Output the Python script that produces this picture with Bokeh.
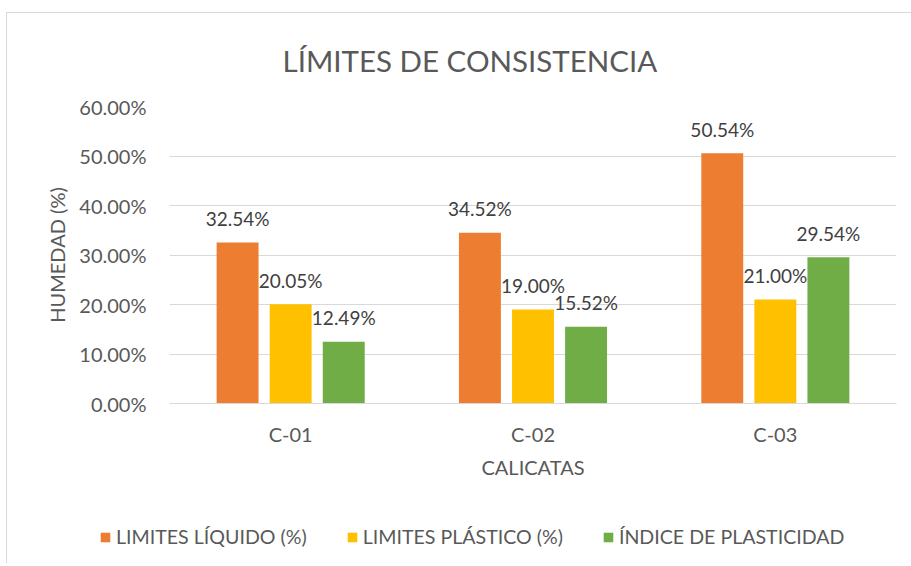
from bokeh.plotting import figure
from bokeh.models import FactorRange, ColumnDataSource, NumeralTickFormatter, FixedTicker, Legend, LegendItem, Range1d
from bokeh.layouts import column
from bokeh.transform import dodge
from bokeh.core.properties import value
from bokeh.embed import file_html
from bokeh.resources import INLINE

categories = ["C-01", "C-02", "C-03"]
liquido = [0.3254, 0.3452, 0.5054]
plastico = [0.2005, 0.1900, 0.2100]
indice = [0.1249, 0.1552, 0.2954]
series_names = ["LIMITES LÍQUIDO (%)", "LIMITES PLÁSTICO (%)", "ÍNDICE DE PLASTICIDAD"]
y_ticks = [0.0, 0.1, 0.2, 0.3, 0.4, 0.5, 0.6]

colors = ["#ED7D31", "#FFC000", "#70AD47"]
FONT = "Lato"
TXT = "#595959"

src = ColumnDataSource(dict(
    cat=categories, liq=liquido, pla=plastico, ind=indice,
    liq_l=[f"{v*100:.2f}%" for v in liquido],
    pla_l=[f"{v*100:.2f}%" for v in plastico],
    ind_l=[f"{v*100:.2f}%" for v in indice],
))

W = 904
p = figure(width=W, height=490, output_backend="svg", toolbar_location=None,
           x_range=FactorRange(*categories, range_padding=0), y_range=(0, 0.6),
           min_border_left=162, min_border_right=15, min_border_top=93, min_border_bottom=100)
p.frame_align = False

p.title.text = "LÍMITES DE CONSISTENCIA"
p.title.align = "left"
p.title.offset = 113
p.title.vertical_align = "middle"
p.title.text_font = FONT
p.title.text_font_size = "29.5px"
p.title.text_font_style = "normal"
p.title.text_color = TXT
p.title.standoff = 55

offsets = [-0.219, 0.0, 0.219]
cols = ["liq", "pla", "ind"]
for off, col, c in zip(offsets, cols, colors):
    p.vbar(x=dodge("cat", off, range=p.x_range), top=col, width=0.173, source=src,
           fill_color=c, line_color=None)
    p.text(x=dodge("cat", off, range=p.x_range), y=col, text=col + "_l", source=src,
           text_align="center", text_baseline="alphabetic", y_offset=-24,
           text_font=value(FONT), text_font_size="19px", text_color="#404040")

p.outline_line_color = None
p.background_fill_color = "white"
p.border_fill_color = "white"
p.xgrid.grid_line_color = None
p.ygrid.grid_line_color = "#D9D9D9"
p.ygrid.grid_line_width = 1

p.yaxis.ticker = FixedTicker(ticks=y_ticks)
p.yaxis.formatter = NumeralTickFormatter(format="0.00%")
p.yaxis.axis_line_color = None
p.yaxis.major_tick_line_color = None
p.yaxis.minor_tick_line_color = None
p.yaxis.major_tick_out = 0
p.yaxis.major_label_standoff = 23
p.yaxis.axis_label = "HUMEDAD (%)"
p.yaxis.axis_label_standoff = 7

p.xaxis.axis_line_color = "#D9D9D9"
p.xaxis.major_tick_line_color = None
p.xaxis.major_tick_out = 0
p.xaxis.major_label_standoff = 18
p.xaxis.axis_label = "CALICATAS"
p.xaxis.axis_label_standoff = 6

for ax in (p.xaxis[0], p.yaxis[0]):
    ax.major_label_text_font = FONT
    ax.major_label_text_font_size = "20px"
    ax.major_label_text_color = TXT
    ax.axis_label_text_font = FONT
    ax.axis_label_text_font_size = "20px"
    ax.axis_label_text_font_style = "normal"
    ax.axis_label_text_color = TXT

# legend strip below the chart (swatch renderers have zero size; they only carry colours)
q = figure(width=W, height=60, output_backend="svg", toolbar_location=None,
           x_range=Range1d(0, 1), y_range=Range1d(0, 1), x_axis_type=None, y_axis_type=None,
           min_border=0)
q.frame_align = False
q.outline_line_color = None
q.grid.visible = False
q.border_fill_color = "white"
items = []
for c, name in zip(colors, series_names):
    r = q.vbar(x=[0], top=[0], width=0, fill_color=c, line_color=None)
    items.append(LegendItem(label=name, renderers=[r]))
lg = Legend(items=items, orientation="horizontal", location=(92, 15))
lg.border_line_color = None
lg.background_fill_alpha = 0
lg.padding = 0
lg.margin = 0
lg.spacing = 39
lg.glyph_width = 12
lg.glyph_height = 12
lg.label_standoff = 5
lg.label_text_font = FONT
lg.label_text_font_size = "19.6px"
lg.label_text_color = TXT
q.add_layout(lg)

layout = column(p, q, spacing=0)
layout.styles = {"border-top": "1px solid #D9D9D9", "border-left": "1px solid #D9D9D9",
                 "margin-top": "12px", "margin-left": "6px"}

open("out.html", "w").write(file_html(layout, INLINE))
